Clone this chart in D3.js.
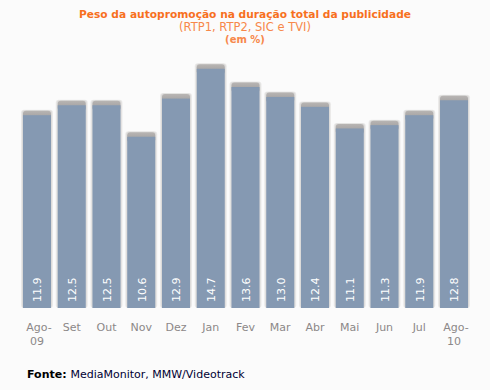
<!DOCTYPE html>
<html><head><meta charset="utf-8">
<script src="https://cdn.jsdelivr.net/npm/d3@7"></script>
<style>
html,body{margin:0;padding:0;background:#fbfbfb;}
svg{display:block;font-family:"DejaVu Sans",Verdana,sans-serif;}
</style></head>
<body>
<svg id="chart" width="490" height="390"></svg>
<script>
const categories = ["Ago-09","Set","Out","Nov","Dez","Jan","Fev","Mar","Abr","Mai","Jun","Jul","Ago-10"];
const values = [11.9,12.5,12.5,10.6,12.9,14.7,13.6,13.0,12.4,11.1,11.3,11.9,12.8];
const titleText = "Peso da autopromoção na duração total da publicidade";
const subtitleText = "(RTP1, RTP2, SIC e TVI)";
const unitText = "(em %)";

const svg = d3.select("#chart");
svg.append("rect").attr("width",490).attr("height",390).attr("fill","#fbfbfb");

const defs = svg.append("defs");
const g1 = defs.append("linearGradient").attr("id","cap").attr("x1",0).attr("y1",0).attr("x2",0).attr("y2",1);
g1.append("stop").attr("offset","0%").attr("stop-color","#b8b5b3");
g1.append("stop").attr("offset","100%").attr("stop-color","#9a999b");

const x = d3.scaleBand().domain(categories).range([19.6, 471.4]).paddingInner(0.194).paddingOuter(0.097);
const y = d3.scaleLinear().domain([0,15]).range([308, 59.3]);

const bw = x.bandwidth();
const bars = svg.append("g").selectAll("g").data(values).join("g")
  .attr("transform",(d,i)=>`translate(${x(categories[i])},0)`);

// soft shadow
bars.append("rect")
  .attr("x",-2).attr("width",bw+4)
  .attr("y",d=>y(d)-1).attr("height",d=>y(0)-y(d)+1)
  .attr("rx",3).attr("fill","#ebeae9");
bars.append("rect")
  .attr("x",-1).attr("width",bw+2)
  .attr("y",d=>y(d)-0.5).attr("height",d=>y(0)-y(d)+0.5)
  .attr("rx",2.5).attr("fill","#dcdbda");
// cap
bars.append("rect")
  .attr("x",0).attr("width",bw)
  .attr("y",d=>y(d)).attr("height",10)
  .attr("rx",3).attr("fill","url(#cap)");
// body
bars.append("rect")
  .attr("x",0).attr("width",bw)
  .attr("y",d=>y(d)+4.5).attr("height",d=>y(0)-y(d)-4.5)
  .attr("fill","#8599b2");
// value labels
bars.append("text")
  .attr("transform",`translate(${bw/2+0.5},302) rotate(-90)`)
  .attr("dy","0.36em")
  .attr("fill","#ffffff").attr("font-size","11px")
  .text(d=>d.toFixed(1));

// x axis labels
const xl = svg.append("g").selectAll("text").data(categories).join("text")
  .attr("x",d=>x(d)+bw/2).attr("y",331)
  .attr("text-anchor","middle").attr("fill","#8c8888").attr("font-size","11px");
xl.each(function(d){
  const t = d3.select(this);
  const parts = d.includes("-") ? [d.split("-")[0]+"-", d.split("-")[1]] : [d];
  parts.forEach((p,i)=>{
    t.append("tspan").attr("x",x(d)+bw/2 + (i===0 && parts.length>1 ? 2 : 0)).attr("dy",i===0?0:14).text(p);
  });
});

// titles
svg.append("text").attr("x",245).attr("y",18).attr("text-anchor","middle")
  .attr("fill","#f7701e").attr("font-weight","bold").attr("font-size","11px")
  .attr("textLength",332).attr("lengthAdjust","spacingAndGlyphs")
  .text(titleText);
svg.append("text").attr("x",245).attr("y",31).attr("text-anchor","middle")
  .attr("fill","#f7884a").attr("font-size","11.5px")
  .text(subtitleText);
svg.append("text").attr("x",245).attr("y",43).attr("text-anchor","middle")
  .attr("fill","#f7884a").attr("font-weight","bold").attr("font-size","10px")
  .text(unitText);

// source
const src = svg.append("text").attr("x",27).attr("y",378).attr("font-size","11px");
src.append("tspan").attr("font-weight","bold").attr("fill","#000000").text("Fonte: ");
src.append("tspan").attr("fill","#000033").text("MediaMonitor, MMW/Videotrack");
</script>
</body></html>
